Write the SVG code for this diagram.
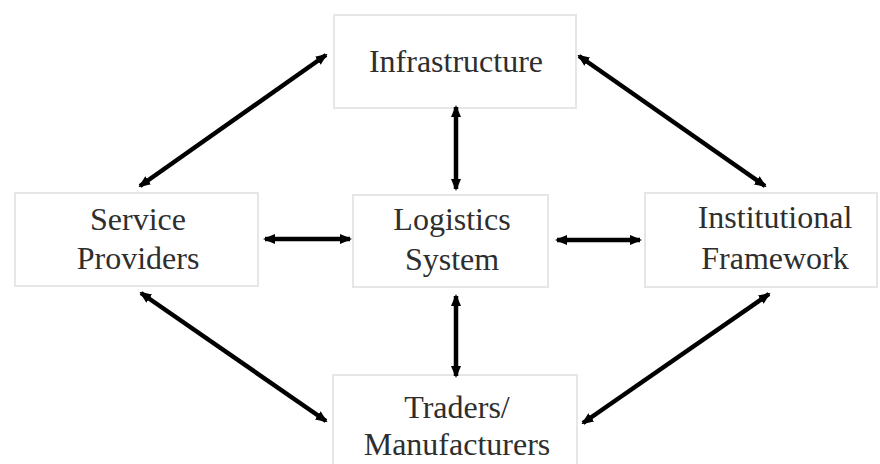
<svg xmlns="http://www.w3.org/2000/svg" width="880" height="464" viewBox="0 0 880 464">
  <style>
    .box { fill: #ffffff; stroke: #e6e6e6; stroke-width: 2; }
    .lbl { font-family: "Liberation Serif", "Times New Roman", serif; font-size: 32px; fill: #2e2e2e; text-anchor: middle; }
    .conn { stroke: #000000; stroke-width: 4.5; fill: none; marker-start: url(#head); marker-end: url(#head); }
  </style>
  <defs>
    <marker id="head" viewBox="0 0 12 10" refX="10" refY="5" markerWidth="12" markerHeight="10" markerUnits="userSpaceOnUse" orient="auto-start-reverse">
      <path d="M0,0 L12,5 L0,10 z" fill="#000000"/>
    </marker>
  </defs>
  <rect width="880" height="464" fill="#ffffff"/>

  <g id="infrastructure">
    <rect class="box" x="334" y="15" width="242" height="93"/>
    <text class="lbl" x="456" y="72">Infrastructure</text>
  </g>
  <g id="service-providers">
    <rect class="box" x="15" y="193" width="243" height="93"/>
    <text class="lbl" x="138" y="230">Service</text>
    <text class="lbl" x="138" y="269">Providers</text>
  </g>
  <g id="logistics-system">
    <rect class="box" x="353" y="195" width="195" height="92"/>
    <text class="lbl" x="452" y="230">Logistics</text>
    <text class="lbl" x="452" y="270">System</text>
  </g>
  <g id="institutional-framework">
    <rect class="box" x="645" y="193" width="232" height="94"/>
    <text class="lbl" x="775" y="228">Institutional</text>
    <text class="lbl" x="775" y="269">Framework</text>
  </g>
  <g id="traders-manufacturers">
    <rect class="box" x="333" y="375" width="244" height="95"/>
    <text class="lbl" x="457" y="418">Traders/</text>
    <text class="lbl" x="457" y="455">Manufacturers</text>
  </g>

  <g id="connectors">
    <line class="conn" x1="140" y1="186" x2="326" y2="55"/>
    <line class="conn" x1="579" y1="56" x2="765" y2="186"/>
    <line class="conn" x1="141" y1="293" x2="326" y2="421"/>
    <line class="conn" x1="769" y1="294" x2="583" y2="423"/>
    <line class="conn" x1="456" y1="107" x2="456" y2="189"/>
    <line class="conn" x1="456" y1="296" x2="456" y2="376"/>
    <line class="conn" x1="265" y1="239" x2="350" y2="239"/>
    <line class="conn" x1="557" y1="240" x2="640" y2="240"/>
  </g>
</svg>
